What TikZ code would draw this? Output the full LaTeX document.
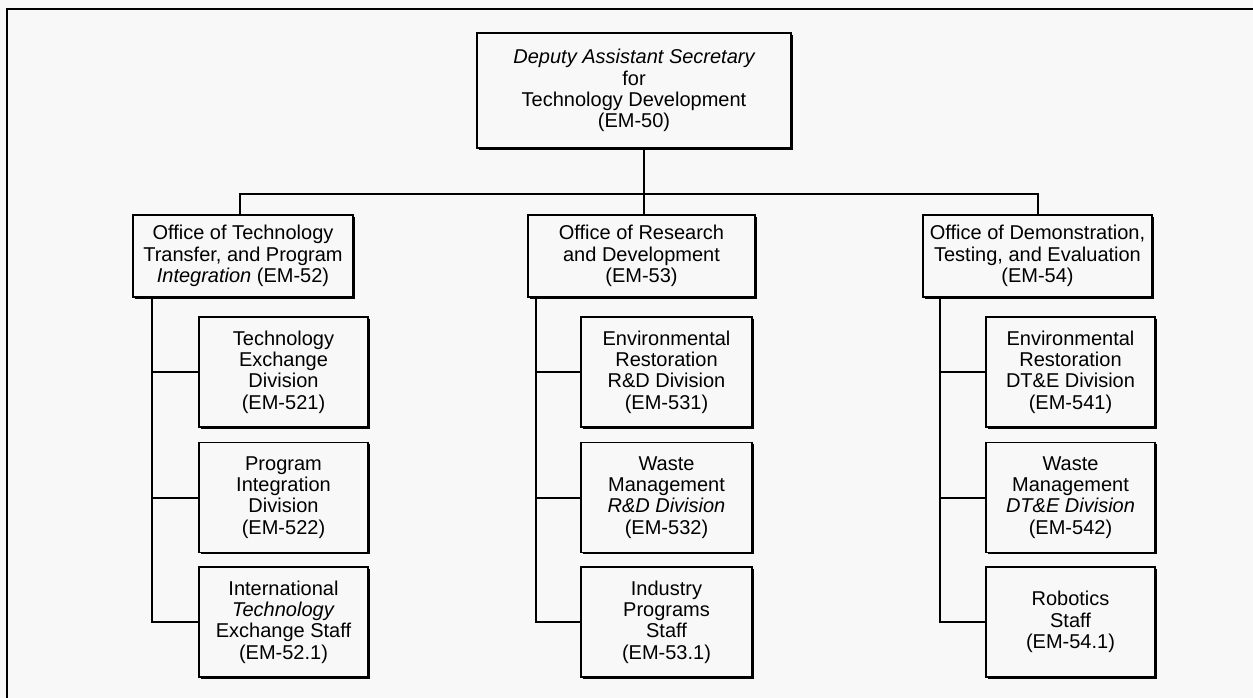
\documentclass[tikz,border=0pt]{standalone}
\usepackage{fontspec}
\setmainfont{Liberation Sans}
\usetikzlibrary{shadows}
\definecolor{paper}{HTML}{F7F8F7}
\begin{document}
\begin{tikzpicture}[x=0.6pt,y=-0.6pt,
  unit/.style={draw=black, line width=1pt, fill=paper, align=center,
    inner sep=0pt,
    font=\fontsize{12}{12.8}\selectfont,
    general shadow={fill=black, shadow xshift=0.9pt, shadow yshift=-0.9pt}},
  office/.style={unit, minimum height=49.2pt},
  division/.style={unit, minimum height=66pt},
  link/.style={line width=1.2pt, line cap=rect}]
  % page and frame
  \fill[paper] (0,0) rectangle (1253,698);
  \useasboundingbox (0,0) rectangle (1253,698);
  \draw[line width=1.6pt] (1260,9) -- (7,9) -- (7,705);

  % head of the office
  \node[unit, minimum width=188.4pt, minimum height=69pt] (em50) at (634,90.5)
    {\itshape Deputy Assistant Secretary\\for\\Technology Development\\(EM-50)};

  % offices
  \node[office, minimum width=132pt] (em52) at (243,256)
    {Office of Technology\\Transfer, and Program\\\textit{Integration} (EM-52)};
  \node[office, minimum width=136.2pt] (em53) at (641.5,256)
    {Office of Research\\and Development\\(EM-53)};
  \node[office, minimum width=137.4pt] (em54) at (1037.5,256)
    {Office of Demonstration,\\Testing, and Evaluation\\(EM-54)};

  % divisions and staffs of EM-52
  \node[division, minimum width=101.4pt] (em521) at (283.5,372)
    {Technology\\Exchange\\Division\\(EM-521)};
  \node[division, minimum width=101.4pt] (em522) at (283.5,497.5)
    {Program\\Integration\\Division\\(EM-522)};
  \node[division, minimum width=101.4pt] (em521s) at (283.5,622)
    {International\\\textit{Technology}\\Exchange Staff\\(EM-52.1)};

  % divisions and staffs of EM-53
  \node[division, minimum width=102.6pt] (em531) at (666.5,372)
    {Environmental\\Restoration\\R\&D Division\\(EM-531)};
  \node[division, minimum width=102.6pt] (em532) at (666.5,497.5)
    {Waste\\Management\\\textit{R\&D Division}\\(EM-532)};
  \node[division, minimum width=102.6pt] (em531s) at (666.5,622)
    {Industry\\Programs\\Staff\\(EM-53.1)};

  % divisions and staffs of EM-54
  \node[division, minimum width=101.4pt] (em541) at (1070.5,372)
    {Environmental\\Restoration\\DT\&E Division\\(EM-541)};
  \node[division, minimum width=101.4pt] (em542) at (1070.5,497.5)
    {Waste\\Management\\\textit{DT\&E Division}\\(EM-542)};
  \node[division, minimum width=101.4pt] (em541s) at (1070.5,622)
    {Robotics\\Staff\\(EM-54.1)};

  % bus from the head to the offices
  \coordinate (busL) at (240,194);
  \coordinate (busR) at (1038,194);
  \coordinate (drop) at (644,194);
  \draw[link] (em50.south -| drop) -- (em53.north -| drop);
  \draw[link] (em52.north -| busL) -- (busL) -- (busR) -- (em54.north -| busR);

  % trunks from each office to its units
  \foreach \off/\tx/\a/\b/\c in {em52/152/em521/em522/em521s,
                                 em53/536/em531/em532/em531s,
                                 em54/940/em541/em542/em541s}{
    \coordinate (t) at (\tx,0);
    \draw[link] (\off.south -| t) -- (\c.west -| t) -- (\c.west);
    \draw[link] (\a.west -| t) -- (\a.west);
    \draw[link] (\b.west -| t) -- (\b.west);
  }
\end{tikzpicture}
\end{document}
